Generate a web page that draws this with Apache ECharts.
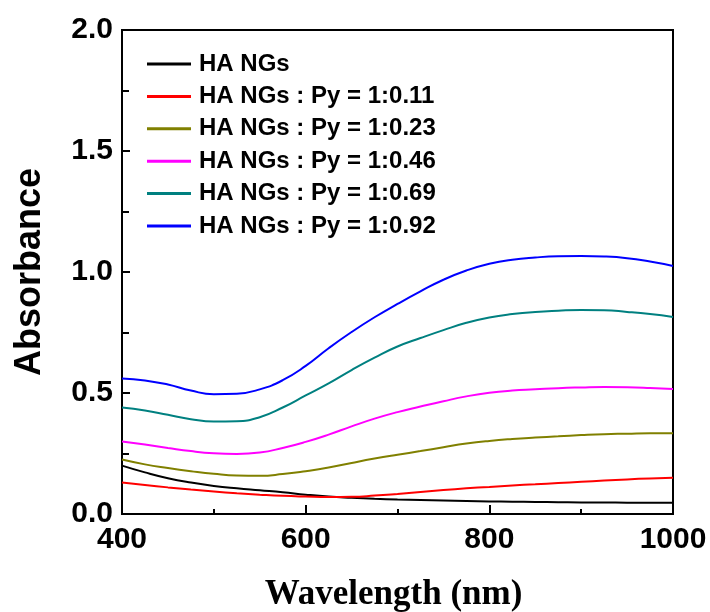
<!DOCTYPE html>
<html>
<head>
<meta charset="utf-8">
<script src="https://cdn.jsdelivr.net/npm/echarts@6/dist/echarts.min.js"></script>
<style>
  html, body { margin: 0; padding: 0; background: #fff; }
  #chart { width: 710px; height: 612px; }
</style>
</head>
<body>
<div id="chart"></div>
<script>
var wavelengths = [400, 425, 450, 475, 500, 525, 550, 575, 600, 625, 650, 675, 700,
                   725, 750, 775, 800, 825, 850, 875, 900, 925, 950, 975, 1000];

var haNGs = [0.200, 0.172, 0.148, 0.130, 0.116, 0.106, 0.098, 0.090, 0.080, 0.072, 0.067, 0.063, 0.060,
             0.058, 0.056, 0.054, 0.052, 0.051, 0.050, 0.049, 0.048, 0.048, 0.047, 0.047, 0.047];
var py011 = [0.130, 0.120, 0.110, 0.101, 0.093, 0.086, 0.080, 0.075, 0.072, 0.070, 0.071, 0.076, 0.083,
             0.091, 0.099, 0.106, 0.112, 0.118, 0.123, 0.128, 0.133, 0.138, 0.143, 0.147, 0.150];
var py023 = [0.225, 0.205, 0.190, 0.177, 0.166, 0.159, 0.158, 0.165, 0.177, 0.192, 0.211, 0.229, 0.245,
             0.260, 0.276, 0.291, 0.302, 0.310, 0.316, 0.321, 0.326, 0.330, 0.332, 0.334, 0.334];
var py046 = [0.300, 0.287, 0.273, 0.260, 0.251, 0.248, 0.254, 0.273, 0.298, 0.328, 0.362, 0.394, 0.421,
             0.444, 0.466, 0.486, 0.501, 0.510, 0.515, 0.520, 0.523, 0.525, 0.524, 0.521, 0.517];
var py069 = [0.440, 0.428, 0.410, 0.392, 0.382, 0.383, 0.400, 0.440, 0.490, 0.540, 0.595, 0.646, 0.692,
             0.727, 0.760, 0.790, 0.812, 0.826, 0.835, 0.840, 0.843, 0.842, 0.835, 0.826, 0.814];
var py092 = [0.560, 0.552, 0.535, 0.510, 0.495, 0.497, 0.515, 0.553, 0.612, 0.685, 0.752, 0.813, 0.868,
             0.920, 0.968, 1.006, 1.034, 1.051, 1.060, 1.065, 1.066, 1.064, 1.057, 1.043, 1.025];

var seriesNames = ['HA NGs', 'HA NGs : Py = 1:0.11', 'HA NGs : Py = 1:0.23',
                   'HA NGs : Py = 1:0.46', 'HA NGs : Py = 1:0.69', 'HA NGs : Py = 1:0.92'];
var seriesValues = [haNGs, py011, py023, py046, py069, py092];
var seriesColors = ['#000000', '#ff0000', '#808000', '#ff00ff', '#008080', '#0000ff'];

var myChart = echarts.init(document.getElementById('chart'));

var series = seriesNames.map(function (name, i) {
    return {
        name: name,
        type: 'line',
        smooth: 0.5,
        showSymbol: false,
        symbol: 'none',
        lineStyle: { color: seriesColors[i], width: 2 },
        itemStyle: { color: seriesColors[i] },
        data: wavelengths.map(function (w, j) { return [w, seriesValues[i][j]]; })
    };
});

var option = {
    animation: false,
    backgroundColor: '#fff',
    grid: {
        left: 122, right: 37, top: 30, bottom: 98,
        outerBoundsMode: 'none',
        containLabel: false,
        show: true, borderColor: '#000', borderWidth: 2
    },
    legend: {
        orient: 'vertical',
        left: 147,
        top: 52,
        padding: 0,
        itemWidth: 44,
        itemHeight: 3,
        itemGap: 8.4,
        icon: 'rect',
        data: seriesNames,
        textStyle: {
            fontFamily: 'Liberation Sans, Arial, sans-serif',
            fontWeight: 'bold',
            fontSize: 24,
            color: '#000',
            padding: [0, 0, 0, 3]
        }
    },
    xAxis: {
        type: 'value',
        min: 400,
        max: 1000,
        interval: 200,
        name: 'Wavelength (nm)',
        nameLocation: 'middle',
        nameGap: 63,
        nameTextStyle: {
            fontFamily: 'Liberation Serif, Times New Roman, serif',
            fontWeight: 'bold',
            fontSize: 35,
            color: '#000',
            padding: [0, 8, 0, 0]
        },
        axisLine: { show: true, lineStyle: { color: '#000', width: 2 } },
        axisTick: { show: true, inside: true, length: 9, lineStyle: { color: '#000', width: 2 } },
        minorTick: { show: true, splitNumber: 2, length: 5, lineStyle: { color: '#000', width: 2 } },
        axisLabel: {
            margin: 11,
            formatter: function (v) { return String(v); },
            fontFamily: 'Liberation Sans, Arial, sans-serif',
            fontWeight: 'bold',
            fontSize: 30,
            color: '#000'
        },
        splitLine: { show: false }
    },
    yAxis: {
        type: 'value',
        min: 0,
        max: 2,
        interval: 0.5,
        name: 'Absorbance',
        nameLocation: 'middle',
        nameGap: 74,
        nameTextStyle: {
            fontFamily: 'Liberation Sans, Arial, sans-serif',
            fontWeight: 'bold',
            fontSize: 36,
            color: '#000'
        },
        axisLine: { show: true, lineStyle: { color: '#000', width: 2 } },
        axisTick: { show: true, inside: true, length: 8, lineStyle: { color: '#000', width: 2 } },
        minorTick: { show: true, splitNumber: 2, length: 7, lineStyle: { color: '#000', width: 2 } },
        axisLabel: {
            margin: 9,
            formatter: function (v) { return v.toFixed(1); },
            fontFamily: 'Liberation Sans, Arial, sans-serif',
            fontWeight: 'bold',
            fontSize: 30,
            color: '#000'
        },
        splitLine: { show: false }
    },
    series: series
};

myChart.setOption(option);
</script>
</body>
</html>
